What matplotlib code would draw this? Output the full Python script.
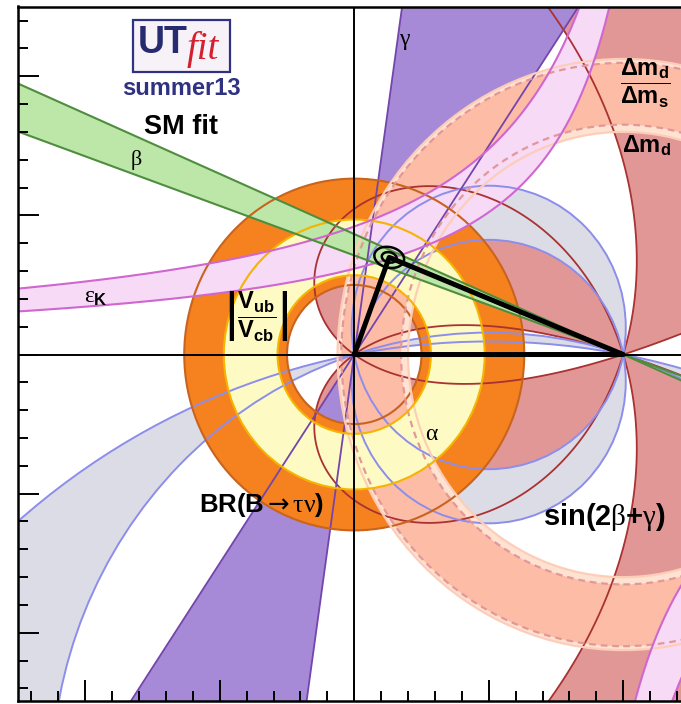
import numpy as np
import matplotlib
matplotlib.use('Agg')
import matplotlib.pyplot as plt
from matplotlib.patches import Circle, Wedge, Ellipse, Rectangle, Polygon
from matplotlib.ticker import MultipleLocator

plt.rcParams['font.family'] = ['Liberation Sans', 'DejaVu Sans']
plt.rcParams['mathtext.fontset'] = 'custom'
plt.rcParams['mathtext.rm'] = 'Liberation Sans'
plt.rcParams['mathtext.bf'] = 'Liberation Sans:bold'
plt.rcParams['mathtext.it'] = 'Liberation Serif'
plt.rcParams['mathtext.sf'] = 'DejaVu Sans'

# ---------------- data ----------------
apex = [0.130, 0.349]                      # fitted (rho_bar, eta_bar)
beta_edges_deg = [19.6, 23.4]              # beta band, lines from (1,0)
gamma_edges_deg = [56.3, 81.9]             # gamma band, lines from (0,0)
alpha_bands_deg = [[79.0, 101.0], [162.1, 169.3]]
sin2bg_threshold = 0.57                    # |sin(2beta+gamma)| allowed above
dmd_radii = [0.800, 1.062]                 # Delta m_d band (around (1,0))
dms_radii = [0.826, 1.048]                 # Delta m_d / Delta m_s band
btaunu_radii = [0.250, 0.632]              # BR(B->tau nu) band (around (0,0))
vub_radii = [0.285, 0.485]                 # |Vub/Vcb| band
epsk_a = [1.326, 1.259]                    # eps_K hyperbolas eta = k/(a - rho)
epsk_k = [0.610, 0.388]
epsk_low_a = [0.70, 0.70]                  # lower-right branch rho = a + k/|eta|
epsk_low_k = [0.428, 0.600]
contour_wh = [[0.112, 0.074], [0.056, 0.037]]
contour_angle = -12

# ---------------- colours ----------------
c_rose, c_rose_l = '#e29797', '#a93232'
c_grey, c_blue = '#dcdce6', '#8d8deb'
c_gam, c_gam_l = '#a68ad8', '#7445ab'
c_or, c_or_l = '#f5821f', '#c8641e'
c_pale, c_pale_l = '#fee2d2', '#fecdb8'
c_salm, c_salm_l = '#fdbca6', '#e29898'
c_yel, c_yel_l = '#fdfbc3', '#f5b400'
c_eps, c_eps_l = '#f6daf6', '#d066d0'
c_beta, c_beta_l = '#bde7a8', '#4f8d3e'

W, H = 681, 704
fig = plt.figure(figsize=(W / 100, H / 100), dpi=100)
ax = fig.add_axes([18 / W, 3 / H, 672.5 / W, 694.5 / H])
ax.set_xlim(-1.25, 1.25)
ax.set_ylim(-1.245, 1.2505)

r = np.linspace(-1.3013, 1.3011, 1400)
e = np.linspace(-1.3017, 1.3009, 1400)
RR, EE = np.meshgrid(r, e)

# sin(2beta+gamma)
beta = np.arctan2(EE, 1 - RR)
gamma = np.arctan2(EE, RR)
S = np.abs(np.sin(2 * beta + gamma))
ax.contourf(RR, EE, S, levels=[sin2bg_threshold, 2], colors=[c_rose], zorder=1)
ax.contour(RR, EE, S, levels=[sin2bg_threshold], colors=[c_rose_l], linewidths=1.3, zorder=10)

# alpha
for a1, a2 in alpha_bands_deg:
    cs = []
    for a in (a1, a2):
        cs.append((0.5 / np.tan(np.radians(a)), 0.5 / np.sin(np.radians(a))))
    F = ((RR - 0.5) ** 2 + (EE - cs[0][0]) ** 2 - cs[0][1] ** 2) * \
        ((RR - 0.5) ** 2 + (EE - cs[1][0]) ** 2 - cs[1][1] ** 2)
    ax.contourf(RR, EE, F, levels=[F.min() - 1, 0], colors=[c_grey], zorder=2)
    for c, R in cs:
        ax.add_patch(Circle((0.5, c), R, fill=False, ec=c_blue, lw=1.4, zorder=10))

# gamma
L = 6
g1, g2 = np.radians(gamma_edges_deg)
for s in (1, -1):
    ax.add_patch(Polygon([(0, 0), (s * L * np.cos(g1), s * L * np.sin(g1)),
                          (s * L * np.cos(g2), s * L * np.sin(g2))],
                         fc=c_gam, ec='none', zorder=3))
for g in (g1, g2):
    ax.plot([-L * np.cos(g), L * np.cos(g)], [-L * np.sin(g), L * np.sin(g)],
            color=c_gam_l, lw=1.3, zorder=10)

# BR(B->tau nu)
ax.add_patch(Wedge((0, 0), btaunu_radii[1], 0, 360, width=btaunu_radii[1] - btaunu_radii[0],
                   fc=c_or, ec='none', zorder=4))
for R in btaunu_radii:
    ax.add_patch(Circle((0, 0), R, fill=False, ec=c_or_l, lw=1.5, zorder=10))

# Delta m
ax.add_patch(Wedge((1, 0), dmd_radii[1], 0, 360, width=dmd_radii[1] - dmd_radii[0],
                   fc=c_pale, ec='none', zorder=5))
ax.add_patch(Wedge((1, 0), dms_radii[1], 0, 360, width=dms_radii[1] - dms_radii[0],
                   fc=c_salm, ec='none', zorder=5.5))
for R in dmd_radii:
    ax.add_patch(Circle((1, 0), R, fill=False, ec=c_pale_l, lw=1.6, zorder=10))
for R in dms_radii:
    ax.add_patch(Circle((1, 0), R, fill=False, ec=c_salm_l, lw=1.6, ls=(0, (3, 2.2)), zorder=10))

# |Vub/Vcb|
ax.add_patch(Wedge((0, 0), vub_radii[1], 0, 360, width=vub_radii[1] - vub_radii[0],
                   fc=c_yel, ec='none', zorder=6))
for R in vub_radii:
    ax.add_patch(Circle((0, 0), R, fill=False, ec=c_yel_l, lw=1.5, zorder=10))

# eps_K
et = np.linspace(0.03, 1.4, 800)
left = epsk_a[0] - epsk_k[0] / et
right = epsk_a[1] - epsk_k[1] / et
ax.fill_betweenx(et, left, right, color=c_eps, lw=0, zorder=7)
ax.plot(left, et, color=c_eps_l, lw=1.5, zorder=10)
ax.plot(right, et, color=c_eps_l, lw=1.5, zorder=10)
etl = np.linspace(-1.4, -0.2, 600)
l2 = epsk_low_a[0] + epsk_low_k[0] / np.abs(etl)
r2 = epsk_low_a[1] + epsk_low_k[1] / np.abs(etl)
ax.fill_betweenx(etl, l2, r2, color=c_eps, lw=0, zorder=7)
ax.plot(l2, etl, color=c_eps_l, lw=1.5, zorder=10)
ax.plot(r2, etl, color=c_eps_l, lw=1.5, zorder=10)

# beta
b1, b2 = np.radians(beta_edges_deg)
for s in (1, -1):
    ax.add_patch(Polygon([(1, 0), (1 - s * L * np.cos(b1), s * L * np.sin(b1)),
                          (1 - s * L * np.cos(b2), s * L * np.sin(b2))],
                         fc=c_beta, ec='none', zorder=8))
for b in (b1, b2):
    ax.plot([1 - L * np.cos(b), 1 + L * np.cos(b)], [L * np.sin(b), -L * np.sin(b)],
            color=c_beta_l, lw=1.5, zorder=10)

# axes lines, triangle, contours
ax.axhline(0, color='k', lw=1.4, zorder=11)
ax.axvline(0, color='k', lw=1.4, zorder=11)
ax.plot([0, apex[0], 1, 0], [0, apex[1], 0, 0], color='k', lw=3.6, zorder=12,
        solid_capstyle='round', solid_joinstyle='round')
for w, h in contour_wh:
    ax.add_patch(Ellipse((apex[0], apex[1]), w, h, angle=contour_angle, fill=False,
                         ec='k', lw=1.8, zorder=12))

# frame & ticks (drawn above the filled bands)
for sp in ax.spines.values():
    sp.set_linewidth(1.8)
    sp.set_zorder(20)
ax.xaxis.set_zorder(25)
ax.yaxis.set_zorder(25)
ax.xaxis.set_major_locator(MultipleLocator(0.5))
ax.xaxis.set_minor_locator(MultipleLocator(0.1))
ax.yaxis.set_major_locator(MultipleLocator(0.5))
ax.yaxis.set_minor_locator(MultipleLocator(0.1))
ax.tick_params(which='both', direction='in', top=False, right=False,
               labelbottom=False, labelleft=False, width=1.4)
ax.tick_params(which='major', length=15)
ax.tick_params(which='minor', length=7.5)

# labels
ax.text(0.19, 1.125, r'$\gamma$', fontsize=17, ha='center', va='center', zorder=15)
ax.text(-0.81, 0.70, r'$\beta$', fontsize=16, ha='center', va='center', zorder=15)
ax.text(-0.96, 0.205, r'$\varepsilon_{\mathbf{K}}$', fontsize=17, ha='center', va='center', zorder=15)
ax.text(0.29, -0.285, r'$\alpha$', fontsize=17, ha='center', va='center', zorder=15)
ax.text(0.703, -0.585, r'$\mathbf{sin(2}\beta\mathbf{+}\gamma\mathbf{)}$', fontsize=21,
        ha='left', va='center', zorder=15)
ax.text(-0.578, -0.54, r'$\mathbf{BR(B}\mathsf{\rightarrow}\tau\nu\mathbf{)}$', fontsize=18.5,
        ha='left', va='center', zorder=15)
ax.text(-0.365, 0.137, r'$\left|\dfrac{\mathbf{V_{ub}}}{\mathbf{V_{cb}}}\right|$', fontsize=17,
        ha='center', va='center', zorder=15)
ax.text(1.083, 0.975, r'$\dfrac{\mathbf{\Delta m_d}}{\mathbf{\Delta m_s}}$', fontsize=17,
        ha='center', va='center', zorder=15)
ax.text(1.085, 0.75, r'$\mathbf{\Delta m_d}$', fontsize=17, ha='center', va='center', zorder=15)

# logo
fig.add_artist(Rectangle((133 / W, 1 - 72 / H), 97 / W, 52 / H, transform=fig.transFigure,
                         fc='#f6f2f8', ec='#2e3280', lw=1.6, zorder=30))
fig.text(138 / W, 1 - 53 / H, 'UT', fontsize=27, fontweight='bold', color='#262a6e',
         ha='left', va='baseline', zorder=31)
fig.text(187 / W, 1 - 59 / H, 'fit', fontsize=28, family='Liberation Serif', style='italic',
         color='#d4202e', ha='left', va='baseline', zorder=31)
fig.text(181 / W, 1 - 95 / H, 'summer13', fontsize=17, fontweight='bold', color='#2e3280',
         ha='center', va='baseline', zorder=31)
fig.text(181 / W, 1 - 134 / H, 'SM fit', fontsize=19.5, fontweight='bold', color='k',
         ha='center', va='baseline', zorder=31)

fig.savefig('out.png', dpi=100)
